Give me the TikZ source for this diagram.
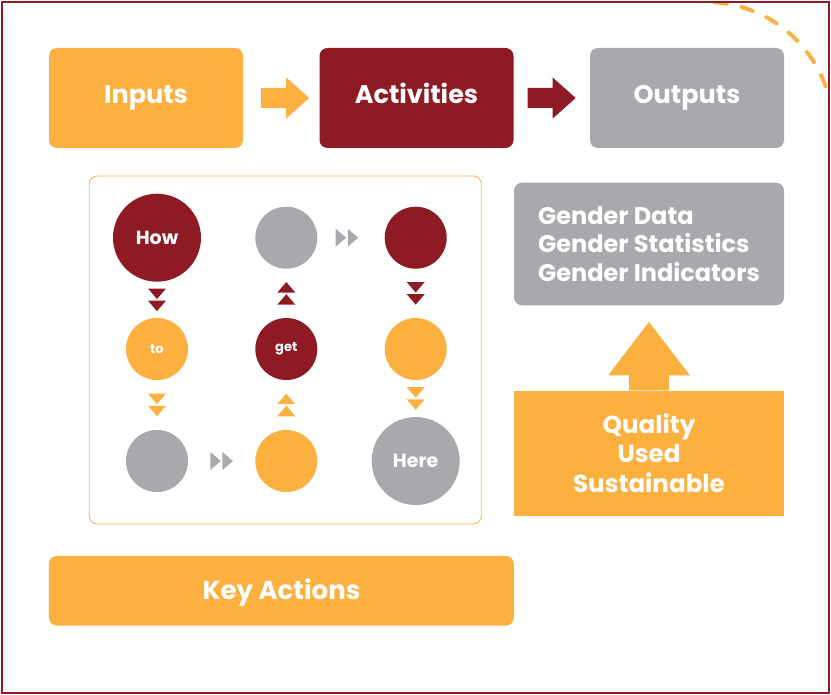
\documentclass[tikz,border=0pt]{standalone}
\usepackage{fontspec}
\setmainfont{Poppins}
\usetikzlibrary{calc}
\definecolor{orng}{RGB}{251,176,64}
\definecolor{dred}{RGB}{142,27,35}
\definecolor{gry}{RGB}{167,169,172}
% block arrow, starting at #2
\newcommand{\blockarr}[2]{\fill[#1] (#2) ++(0,10) -- ++(25,0) -- ++(0,10.5) -- ++(23,-20.5) -- ++(-23,-20.5) -- ++(0,10.5) -- ++(-25,0) -- cycle;}
% two small triangles, pointing down before rotation
\newcommand{\dbltri}[3]{\begin{scope}[shift={(#2)},rotate=#3]
\fill[#1] (-9,11.3) -- (9,11.3) -- (0,0.8) -- cycle;
\fill[#1] (-9,-0.8) -- (9,-0.8) -- (0,-11.3) -- cycle;
\end{scope}}

\begin{document}
\begin{tikzpicture}[x=1pt,y=1pt,
  box/.style={rounded corners=8pt,minimum width=194pt,minimum height=100pt,text=white,text height=17pt,text depth=6pt,font=\bfseries\fontsize{25.5}{30}\selectfont},
  blob/.style={circle,minimum size=62pt,inner sep=0pt,text=white,font=\bfseries\fontsize{13}{15}\selectfont},
  bigblob/.style={blob,minimum size=88pt,font=\bfseries\fontsize{19}{22}\selectfont}]
\useasboundingbox (0,0) rectangle (831,-695);
\begin{scope}
\clip (2,-2) rectangle (829,-693);
\draw[orng,line width=4pt,dash pattern=on 12pt off 15pt,line cap=round] (706,-129) ++(86:127) arc (86:0:127);
\end{scope}
\draw[dred,line width=1.2pt] (2,-2) rectangle (829,-693);
%
\node[box,fill=orng] (inputs) at (146,-98) {Inputs};
\node[box,fill=dred] (activities) at (416.5,-98) {Activities};
\node[box,fill=gry] (outputs) at (687,-98) {Outputs};
\blockarr{orng}{[xshift=18pt]inputs.east}
\blockarr{dred}{[xshift=14pt]activities.east}
%
\node[draw=orng,rounded corners=8pt,line width=0.8pt,minimum width=392pt,minimum height=348pt] (keyframe) at (285.3,-350) {};
\node[bigblob,fill=dred] (how) at (157,-237.7) {How};
\node[blob,fill=gry] (gtop) at (286.3,-237.7) {};
\node[blob,fill=dred] (rtop) at (415.7,-237.7) {};
\node[blob,fill=orng] (to) at (157,-349) {to};
\node[blob,fill=dred] (get) at (286.3,-349) {get};
\node[blob,fill=orng] (oright) at (415.7,-349) {};
\node[blob,fill=gry] (gbot) at (157,-461) {};
\node[blob,fill=orng] (omid) at (286.3,-461) {};
\node[bigblob,fill=gry] (here) at (415.7,-461) {Here};
\dbltri{dred}{$(how.south)!0.5!(to.north)$}{0}
\dbltri{orng}{$(to.south)!0.5!(gbot.north)$}{0}
\dbltri{gry}{$(gbot.east)!0.5!(omid.west)$}{90}
\dbltri{orng}{$(omid.north)!0.5!(get.south)$}{180}
\dbltri{dred}{$(get.north)!0.5!(gtop.south)$}{180}
\dbltri{gry}{$(gtop.east)!0.5!(rtop.west)+(-4,0)$}{90}
\dbltri{dred}{$(rtop.south)!0.5!(oright.north)$}{0}
\dbltri{orng}{$(oright.south)!0.5!(here.north)$}{0}
%
\node[fill=gry,rounded corners=8pt,minimum width=270pt,minimum height=122.6pt,align=left,text=white,font=\bfseries\fontsize{24}{28.3}\selectfont] (gender) at (649,-244) {Gender Data\\Gender Statistics\\Gender Indicators};
\node[fill=orng,minimum width=270pt,minimum height=125pt,align=center,text=white,font=\bfseries\fontsize{24.6}{29.5}\selectfont] (qual) at (649,-453.2) {Quality\\Used\\Sustainable};
\fill[orng] ([xshift=-20pt]qual.north) -- ++(0,15) -- ++(-21,0) -- ([yshift=-16.4pt]gender.south) -- ([xshift=41pt,yshift=15pt]qual.north) -- ++(-21,0) -- ([xshift=20pt]qual.north) -- cycle;
%
\node[box,fill=orng,minimum width=465pt,minimum height=69.7pt,text height=18.3pt,text depth=0pt,font=\bfseries\fontsize{26}{30}\selectfont] (keyact) at (281.4,-590.8) {Key Actions};
\end{tikzpicture}
\end{document}
